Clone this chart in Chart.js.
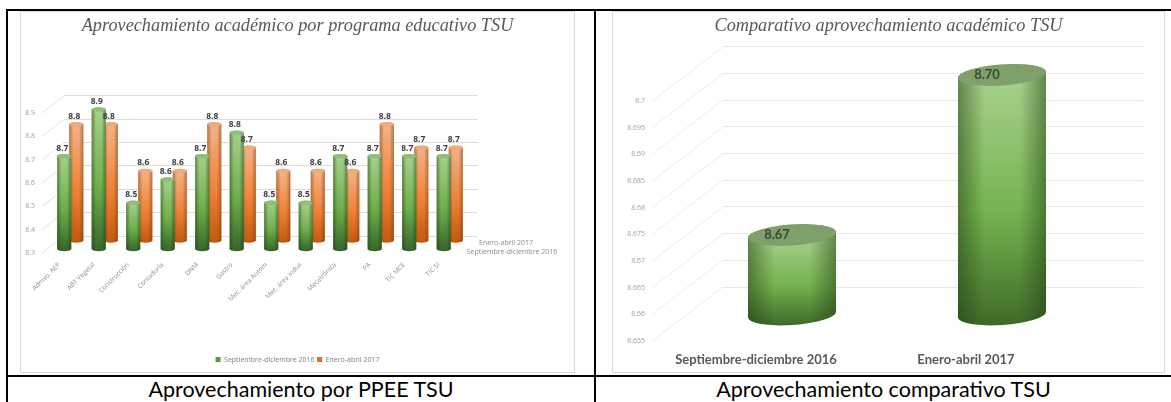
<!DOCTYPE html>
<html lang="es">
<head>
<meta charset="utf-8">
<title>Aprovechamiento académico TSU</title>
<script src="https://cdn.jsdelivr.net/npm/chart.js@4"></script>
<style>
    html, body { margin: 0; padding: 0; background: #fff; overflow: hidden; }
    body { position: relative; width: 1171px; height: 402px; }
    .linea { position: absolute; background: #000; }
    canvas { position: absolute; outline: 1px solid #d9d9d9; outline-offset: -1px; filter: blur(0.35px); }
    .pie { position: absolute; top: 377px; height: 25px; line-height: 25px; text-align: center;
           font-family: Lato, sans-serif; font-size: 21.5px; color: #000; }
</style>
</head>
<body>
<div class="linea" style="left:6px; top:9px; width:1165px; height:2px"></div>
<div class="linea" style="left:6px; top:375px; width:1165px; height:2px"></div>
<div class="linea" style="left:6px; top:9px; width:2px; height:393px"></div>
<div class="linea" style="left:594px; top:9px; width:2px; height:393px"></div>

<canvas id="chartProgramas" width="555" height="362" style="left:20px; top:11px"></canvas>
<canvas id="chartComparativo" width="553" height="362" style="left:612px; top:11px"></canvas>

<div class="pie" style="left:8px; width:586px">Aprovechamiento por PPEE TSU</div>
<div class="pie" style="left:596px; width:575px">Aprovechamiento comparativo TSU</div>

<script>
// ===== DATOS =====
const programas = ["Admvo. AEP", "ABT Vegetal", "Construcción", "Contaduría", "DNM", "Gastro",
    "Mec. área Autom", "Mec. área Indus", "Mecatrónica", "PA", "TIC MCE", "TIC SI"];
const septDic2016 = [8.7, 8.9, 8.5, 8.6, 8.7, 8.8, 8.5, 8.5, 8.7, 8.7, 8.7, 8.7];
const eneAbr2017 = [8.8, 8.8, 8.6, 8.6, 8.8, 8.7, 8.6, 8.6, 8.6, 8.8, 8.7, 8.7];
const ticksProgramas = [8.3, 8.4, 8.5, 8.6, 8.7, 8.8, 8.9];

const periodos = ["Septiembre-diciembre 2016", "Enero-abril 2017"];
const comparativo = [8.67, 8.70];
const ticksComparativo = [8.655, 8.66, 8.665, 8.67, 8.675, 8.68, 8.685, 8.69, 8.695, 8.7];

// ===== COLORES =====
const verde = { top: "#a5d08b", mid: "#6fae4c", low: "#35652a", cap: "#8fbe76", edge: "30,60,15" };
const naranja = { top: "#f2b388", mid: "#ee8238", low: "#c2590f", cap: "#eeab7d", edge: "120,55,10" };
const verdeGrande = { top: "#a9d08e", mid: "#74b44f", low: "#3f6a29", cap: "#7f9f6b", edge: "30,60,15" };

const FUENTE = "'Open Sans', sans-serif";
const TITULO = { family: "'Liberation Serif', serif", style: "italic", size: 18.3, weight: "normal" };
Chart.defaults.animation = false;

// ===== CILINDROS, PAREDES Y ETIQUETAS =====
function drawCylinder(ctx, x, top, base, w, ry, tilt, pal) {
    const rx = w / 2;
    ctx.save();
    ctx.beginPath();
    ctx.ellipse(x, base, rx, ry, tilt, 0, Math.PI);
    ctx.ellipse(x, top, rx, ry, tilt, Math.PI, Math.PI * 2);
    ctx.closePath();

    const v = ctx.createLinearGradient(0, top, 0, base + ry);
    v.addColorStop(0, pal.top);
    v.addColorStop(0.55, pal.mid);
    v.addColorStop(1, pal.low);
    ctx.fillStyle = v;
    ctx.fill();

    // sombra lateral para que se vea redondo
    const h = ctx.createLinearGradient(x - rx, 0, x + rx, 0);
    h.addColorStop(0, "rgba(" + pal.edge + ",0.5)");
    h.addColorStop(0.3, "rgba(" + pal.edge + ",0)");
    h.addColorStop(0.7, "rgba(" + pal.edge + ",0)");
    h.addColorStop(1, "rgba(" + pal.edge + ",0.5)");
    ctx.fillStyle = h;
    ctx.fill();

    ctx.beginPath();
    ctx.ellipse(x, top, rx, ry, tilt, 0, Math.PI * 2);
    ctx.fillStyle = pal.cap;
    ctx.fill();
    ctx.restore();
}

function cylinders(cfg) {
    return {
        id: "cylinders",
        beforeDatasetsDraw(chart) {
            const { ctx, chartArea, scales } = chart;
            ctx.save();
            ctx.strokeStyle = cfg.gridColor;
            ctx.lineWidth = 1;
            scales.y.ticks.forEach(t => {
                const py = scales.y.getPixelForValue(t.value);
                ctx.beginPath();
                ctx.moveTo(chartArea.left, py);
                ctx.lineTo(chartArea.left - cfg.wallX, py + cfg.wallY);
                ctx.stroke();
            });
            ctx.restore();
        },
        beforeDatasetDraw(chart, args) {
            const meta = args.meta;
            const d = cfg.depth[args.index];
            meta.data.forEach(bar => {
                drawCylinder(chart.ctx, bar.x + d.dx, bar.y + d.dy, bar.base + d.dy,
                    bar.width, cfg.ry, cfg.tilt, d.palette);
            });
            return false;
        },
        afterDatasetsDraw(chart) {
            const ctx = chart.ctx;
            ctx.save();
            ctx.textAlign = "center";
            ctx.textBaseline = "middle";
            ctx.font = cfg.labelFont;
            ctx.fillStyle = cfg.labelColor;
            chart.data.datasets.forEach((ds, i) => {
                const d = cfg.depth[i];
                chart.getDatasetMeta(i).data.forEach((bar, j) => {
                    ctx.fillText(ds.data[j].toFixed(cfg.decimals), bar.x + d.dx + cfg.labelDx, bar.y + d.dy + cfg.labelDy);
                });
            });
            (cfg.depthLabels || []).forEach(l => {
                ctx.font = "7px " + FUENTE;
                ctx.fillStyle = "#8c8c8c";
                ctx.fillText(l.text, l.x, l.y);
            });
            ctx.restore();
        }
    };
}

// ===== GRÁFICO: APROVECHAMIENTO POR PROGRAMA =====
new Chart(document.getElementById("chartProgramas"), {
    type: "bar",
    data: {
        labels: programas,
        datasets: [
            { label: periodos[0], data: septDic2016, base: ticksProgramas[0], backgroundColor: "#5f9a41", barPercentage: 1.17, categoryPercentage: 0.7 },
            { label: periodos[1], data: eneAbr2017, base: ticksProgramas[0], backgroundColor: "#dd6f25", barPercentage: 1.17, categoryPercentage: 0.7 }
        ]
    },
    options: {
        responsive: false,
        layout: { padding: 0 },
        plugins: {
            title: {
                display: true,
                text: "Aprovechamiento académico por programa educativo TSU",
                color: "#595959",
                font: TITULO,
                padding: { top: 4, bottom: 59 }
            },
            legend: {
                position: "bottom",
                labels: { boxWidth: 5, boxHeight: 5, padding: 2.5, color: "#7f7f7f", font: { family: FUENTE, size: 7 } }
            },
            tooltip: { enabled: false }
        },
        scales: {
            x: {
                grid: { display: false },
                border: { display: false },
                afterFit(s) { s.height = 117.5; s.paddingLeft = 0; s.paddingRight = 97; },
                ticks: {
                    autoSkip: false, minRotation: 45, maxRotation: 45,
                    padding: 17, labelOffset: -22,
                    color: "#8c8c8c", font: { family: FUENTE, size: 6.5 }
                }
            },
            y: {
                min: 8.3, max: 8.9,
                afterBuildTicks(s) { s.ticks = ticksProgramas.map(value => ({ value })); },
                afterFit(s) { s.width = 44; s.paddingTop = 0; s.paddingBottom = 0; },
                grid: { color: "#dcdcdc", drawTicks: false },
                border: { display: false },
                ticks: {
                    padding: 29, labelOffset: 17,
                    color: "#a0a0a0", font: { family: FUENTE, size: 7 },
                    callback: v => String(v)
                }
            }
        }
    },
    plugins: [cylinders({
        gridColor: "#e4e4e4", wallX: 22, wallY: 17, ry: 2.2, tilt: 0,
        depth: [{ dx: -11, dy: 13.5, palette: verde }, { dx: -11, dy: 5, palette: naranja }],
        labelFont: "bold 8.5px " + FUENTE, labelColor: "#404040", labelDx: -2, labelDy: -8, decimals: 1,
        depthLabels: [
            { text: periodos[1], x: 486, y: 232 },
            { text: periodos[0], x: 492, y: 241 }
        ]
    })]
});

// ===== GRÁFICO: COMPARATIVO =====
new Chart(document.getElementById("chartComparativo"), {
    type: "bar",
    data: {
        labels: periodos,
        datasets: [{ label: "Aprovechamiento", data: comparativo, base: ticksComparativo[0], backgroundColor: "#6fae4c", barPercentage: 1, categoryPercentage: 0.42 }]
    },
    options: {
        responsive: false,
        layout: { padding: 0 },
        plugins: {
            title: {
                display: true,
                text: "Comparativo aprovechamiento académico TSU",
                color: "#595959",
                font: TITULO,
                padding: { top: 4, bottom: 10 }
            },
            legend: { display: false },
            tooltip: { enabled: false }
        },
        scales: {
            x: {
                grid: { display: false },
                border: { display: false },
                afterFit(s) { s.height = 86; s.paddingLeft = 0; s.paddingRight = 22; },
                ticks: {
                    maxRotation: 0, padding: 57, labelOffset: -72,
                    color: "#595959", font: { family: "Lato, sans-serif", size: 13, weight: "bold" }
                }
            },
            y: {
                min: 8.655, max: 8.7,
                afterBuildTicks(s) { s.ticks = ticksComparativo.map(value => ({ value })); },
                afterFit(s) { s.width = 111; s.paddingTop = 0; s.paddingBottom = 0; },
                grid: { color: "#e8e8e8", drawTicks: false },
                border: { display: false },
                ticks: {
                    padding: 78, labelOffset: 54,
                    color: "#a0a0a0", font: { family: FUENTE, size: 7 },
                    callback: v => String(v)
                }
            }
        }
    },
    plugins: [cylinders({
        gridColor: "#ececec", wallX: 71, wallY: 54, ry: 10.5, tilt: -0.07,
        depth: [{ dx: -36, dy: 28, palette: verdeGrande }],
        labelFont: "bold 13px Lato, sans-serif", labelColor: "#3b4a33", labelDx: -15, labelDy: 0, decimals: 2
    })]
});
</script>
</body>
</html>
